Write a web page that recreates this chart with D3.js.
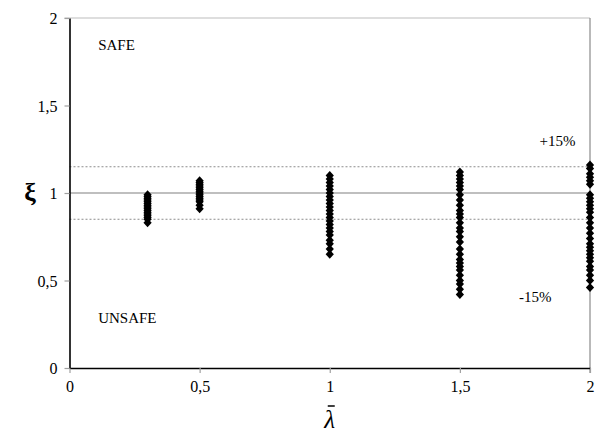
<!DOCTYPE html>
<html>
<head>
<meta charset="utf-8">
<script src="https://cdn.jsdelivr.net/npm/d3@7"></script>
<style>
  html, body { margin: 0; padding: 0; background: #fff; }
  svg { display: block; }
  text { font-family: "Liberation Serif", "Times New Roman", serif; }
</style>
</head>
<body>
<svg id="chart" width="596" height="443"></svg>
<script>
// Slenderness values (x) and the measured ratios xi at each of them
const lambdaValues = [0.3, 0.5, 1, 1.5, 2];
const xi_03 = [0.83, 0.85, 0.86, 0.87, 0.88, 0.89, 0.90, 0.91, 0.92, 0.93, 0.94, 0.95, 0.96, 0.97, 0.98, 0.99];
const xi_05 = [0.91, 0.93, 0.95, 0.96, 0.97, 0.98, 0.99, 1.00, 1.01, 1.02, 1.03, 1.04, 1.05, 1.06, 1.07];
const xi_10 = [0.65, 0.68, 0.71, 0.73, 0.76, 0.78, 0.80, 0.82, 0.84, 0.86, 0.88, 0.90, 0.92, 0.94, 0.96, 0.98, 1.00, 1.02, 1.04, 1.06, 1.08, 1.10];
const xi_15 = [0.42, 0.45, 0.48, 0.50, 0.53, 0.56, 0.58, 0.60, 0.62, 0.65, 0.68, 0.72, 0.75, 0.78, 0.80, 0.83, 0.86, 0.88, 0.90, 0.93, 0.96, 0.99, 1.02, 1.04, 1.06, 1.08, 1.10, 1.12];
const xi_20 = [0.46, 0.50, 0.53, 0.56, 0.58, 0.61, 0.63, 0.65, 0.67, 0.69, 0.71, 0.74, 0.77, 0.80, 0.83, 0.86, 0.89, 0.91, 0.93, 0.95, 0.97, 0.99, 1.05, 1.07, 1.09, 1.11, 1.14, 1.16];
const seriesXi = [xi_03, xi_05, xi_10, xi_15, xi_20];

const xTicks = [0, 0.5, 1, 1.5, 2];
const xTickLabels = ["0", "0,5", "1", "1,5", "2"];
const yTicks = [0, 0.5, 1, 1.5, 2];
const yTickLabels = ["0", "0,5", "1", "1,5", "2"];

// Reference level and ±15 % band
const refLevel = 1;
const bandLevels = [1.15, 0.85];
const annotations = [
  { text: "SAFE", x: 0.11, y: 1.82 },
  { text: "UNSAFE", x: 0.11, y: 0.26 },
  { text: "+15%", x: 1.806, y: 1.27 },
  { text: "-15%", x: 1.727, y: 0.38 }
];

const svg = d3.select("#chart");
const plotLeft = 69.5, plotRight = 590, plotTop = 18, plotBottom = 368;

const x = d3.scaleLinear().domain([0, 2]).range([plotLeft, plotRight]);
const y = d3.scaleLinear().domain([0, 2]).range([plotBottom, plotTop]);

// frame: light top and right border
svg.append("line").attr("x1", plotLeft - 5).attr("x2", plotRight).attr("y1", plotTop).attr("y2", plotTop)
  .attr("stroke", "#bdbdbd").attr("stroke-width", 1.2);
svg.append("line").attr("x1", plotRight).attr("x2", plotRight).attr("y1", plotTop).attr("y2", plotBottom + 5)
  .attr("stroke", "#8a8a8a").attr("stroke-width", 1.2);

// reference lines
svg.append("line").attr("x1", plotLeft).attr("x2", plotRight)
  .attr("y1", y(refLevel)).attr("y2", y(refLevel))
  .attr("stroke", "#808080").attr("stroke-width", 1.2);
svg.selectAll("line.band").data(bandLevels).enter().append("line")
  .attr("class", "band")
  .attr("x1", plotLeft).attr("x2", plotRight)
  .attr("y1", d => y(d)).attr("y2", d => y(d))
  .attr("stroke", "#8c8c8c").attr("stroke-width", 1)
  .attr("stroke-dasharray", "2,2");

// axes
const xAxis = d3.axisBottom(x).tickValues(xTicks)
  .tickFormat((d, i) => xTickLabels[i]).tickSizeInner(5).tickSizeOuter(0).tickPadding(5);
const yAxis = d3.axisLeft(y).tickValues(yTicks)
  .tickFormat((d, i) => yTickLabels[i]).tickSizeInner(5).tickSizeOuter(0).tickPadding(7);

const gx = svg.append("g").attr("transform", `translate(0,${plotBottom})`).call(xAxis);
const gy = svg.append("g").attr("transform", `translate(${plotLeft},0)`).call(yAxis);
[gx, gy].forEach(g => {
  g.select(".domain").attr("stroke", "#000").attr("stroke-width", 1.6);
  g.selectAll(".tick line").attr("stroke", "#a0a0a0").attr("stroke-width", 1.2);
  g.selectAll(".tick text").attr("fill", "#000")
    .style("font-family", "'Liberation Serif', serif").style("font-size", "16px");
});
gy.selectAll(".tick text").attr("dy", "0.36em");
gx.selectAll(".tick text").attr("dy", "0.9em");

// data markers: filled diamonds (rotated squares)
const points = [];
seriesXi.forEach((vals, i) => vals.forEach(v => points.push({ lx: lambdaValues[i], xi: v })));
const marker = d3.symbol().type(d3.symbolSquare).size(34);
svg.append("g").selectAll("path").data(points).enter().append("path")
  .attr("d", marker)
  .attr("transform", d => `translate(${x(d.lx)},${y(d.xi)}) scale(1,1.12) rotate(45)`)
  .attr("fill", "#000");

// annotations
svg.selectAll("text.ann").data(annotations).enter().append("text")
  .attr("class", "ann")
  .attr("x", d => x(d.x)).attr("y", d => y(d.y))
  .attr("font-size", "15px").attr("fill", "#000")
  .text(d => d.text);

// axis titles
svg.append("text").attr("x", 30).attr("y", 201)
  .attr("text-anchor", "middle")
  .style("font-size", "26px").style("font-weight", "bold")
  .text("ξ");
svg.append("text").attr("x", x(1)).attr("y", 428)
  .attr("text-anchor", "middle")
  .style("font-size", "25px").style("font-style", "italic")
  .text("λ");
// bar over lambda
svg.append("line")
  .attr("x1", x(1) - 2).attr("x2", x(1) + 5)
  .attr("y1", 406).attr("y2", 406)
  .attr("stroke", "#000").attr("stroke-width", 1.5);
</script>
</body>
</html>
